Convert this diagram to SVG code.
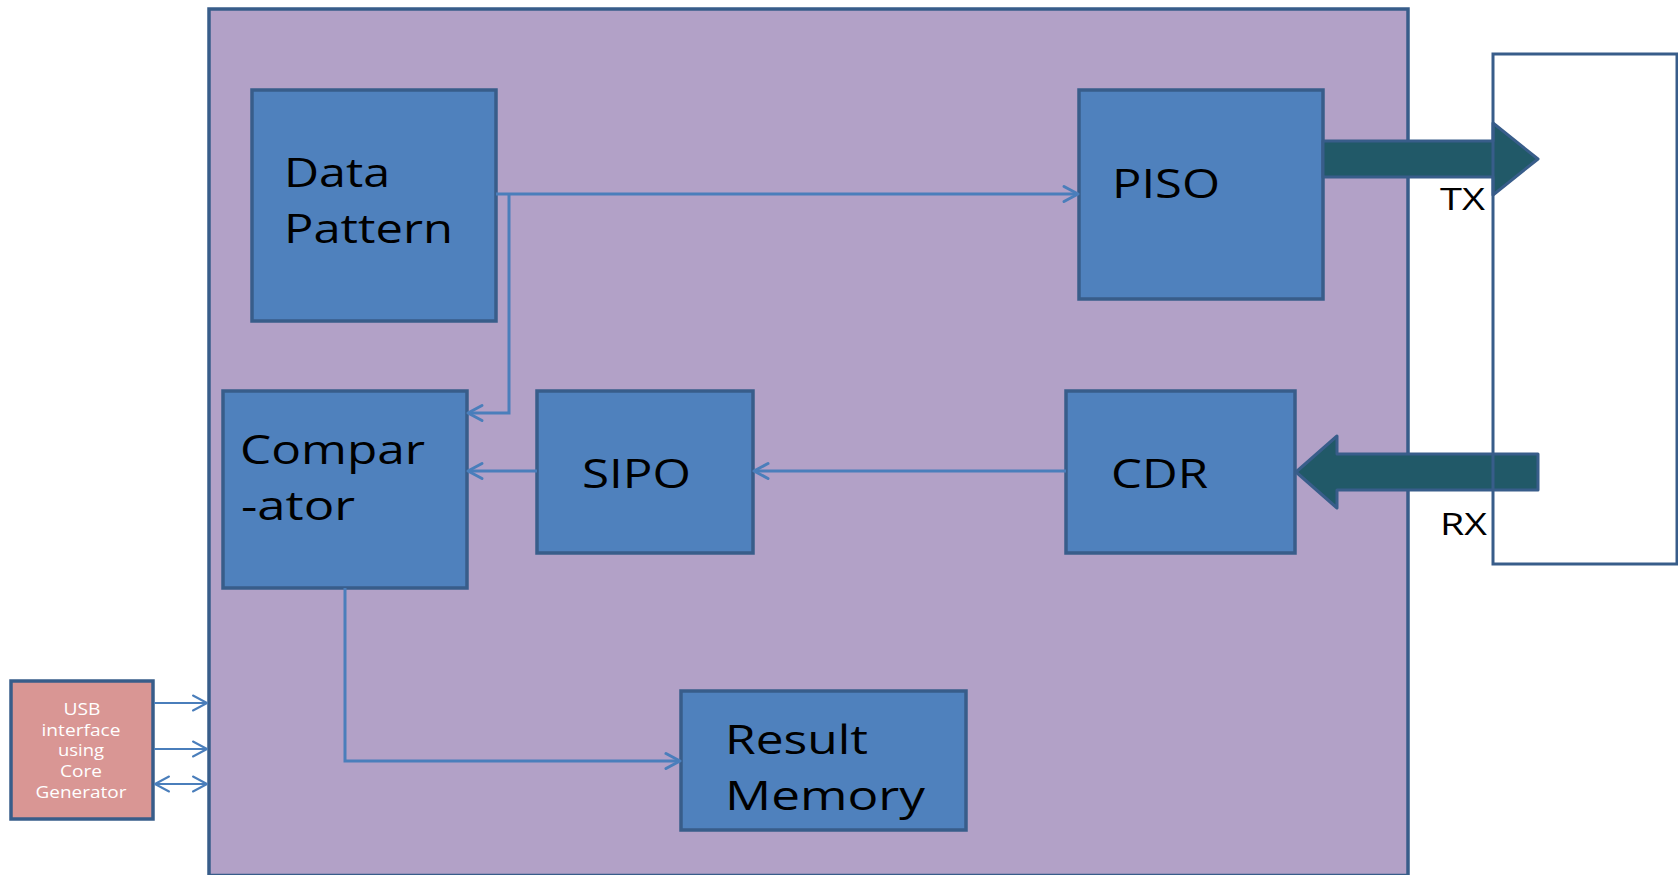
<svg xmlns="http://www.w3.org/2000/svg" width="1678" height="875" viewBox="0 0 1678 875">
<style>
.box{fill:#4F81BD;stroke:#385D8A;stroke-width:3.5}
.lbl{font-family:"Open Sans","Liberation Sans",sans-serif;font-size:41px;fill:#000}
.small{font-family:"Open Sans","Liberation Sans",sans-serif;font-size:15.5px;fill:#fff;text-anchor:middle}
.io{font-family:"Open Sans","Liberation Sans",sans-serif;font-size:31px;fill:#000}
.conn{fill:none;stroke:#4A7EBB;stroke-width:3}
.usb{fill:none;stroke:#4A7EBB;stroke-width:2}
.big{fill:#215968;stroke:#385D8A;stroke-width:3;stroke-linejoin:round}
</style>
<defs>
<marker id="ah" markerUnits="userSpaceOnUse" markerWidth="20" markerHeight="20" viewBox="-16 -10 18 20" refX="0" refY="0" orient="auto-start-reverse">
<path d="M-14,-7.5 L0,0 L-14,7.5" fill="none" stroke="#4A7EBB" stroke-width="3" stroke-linecap="round" stroke-linejoin="round"/>
</marker>
<marker id="ahs" markerUnits="userSpaceOnUse" markerWidth="20" markerHeight="20" viewBox="-16 -10 18 20" refX="0" refY="0" orient="auto-start-reverse">
<path d="M-14,-7.5 L0,0 L-14,7.5" fill="none" stroke="#4A7EBB" stroke-width="2" stroke-linecap="round" stroke-linejoin="round"/>
</marker>
</defs>
<rect width="1678" height="875" fill="#fff"/>
<g id="fpga">
<rect x="209" y="9" width="1199" height="866.5" fill="#B2A1C7" stroke="#385D8A" stroke-width="3.5"/>
</g>
<g id="data-pattern">
<rect class="box" x="252" y="90" width="244" height="231"/>
<text class="lbl" x="284" y="187" textLength="106" lengthAdjust="spacingAndGlyphs">Data</text>
<text class="lbl" x="284" y="243" textLength="169" lengthAdjust="spacingAndGlyphs">Pattern</text>
</g>
<g id="piso">
<rect class="box" x="1079" y="90" width="244" height="209"/>
<text class="lbl" x="1112" y="198" textLength="108" lengthAdjust="spacingAndGlyphs">PISO</text>
</g>
<g id="comparator">
<rect class="box" x="223" y="391" width="244" height="197"/>
<text class="lbl" x="240" y="464" textLength="185" lengthAdjust="spacingAndGlyphs">Compar</text>
<text class="lbl" x="241" y="520" textLength="114" lengthAdjust="spacingAndGlyphs">-ator</text>
</g>
<g id="sipo">
<rect class="box" x="537" y="391" width="216" height="162"/>
<text class="lbl" x="582" y="488" textLength="109" lengthAdjust="spacingAndGlyphs">SIPO</text>
</g>
<g id="cdr">
<rect class="box" x="1066" y="391" width="229" height="162"/>
<text class="lbl" x="1111" y="488" textLength="97" lengthAdjust="spacingAndGlyphs">CDR</text>
</g>
<g id="result-memory">
<rect class="box" x="681" y="691" width="285" height="139"/>
<text class="lbl" x="725" y="754" textLength="143" lengthAdjust="spacingAndGlyphs">Result</text>
<text class="lbl" x="725" y="810" textLength="200" lengthAdjust="spacingAndGlyphs">Memory</text>
</g>
<g id="usb">
<rect x="11" y="681" width="142" height="138" fill="#D99694" stroke="#385D8A" stroke-width="3.5"/>
<text class="small" x="82" y="715" textLength="37" lengthAdjust="spacingAndGlyphs">USB</text>
<text class="small" x="81" y="735.5" textLength="79" lengthAdjust="spacingAndGlyphs">interface</text>
<text class="small" x="81" y="756" textLength="46" lengthAdjust="spacingAndGlyphs">using</text>
<text class="small" x="81" y="777" textLength="42" lengthAdjust="spacingAndGlyphs">Core</text>
<text class="small" x="81" y="797.7" textLength="91" lengthAdjust="spacingAndGlyphs">Generator</text>
</g>
<g id="connectors">
<path class="conn" d="M496,194 L1078,194" marker-end="url(#ah)"/>
<path class="conn" d="M509,194 L509,413 L468,413" marker-end="url(#ah)"/>
<path class="conn" d="M537,471 L468,471" marker-end="url(#ah)"/>
<path class="conn" d="M1066,471 L754,471" marker-end="url(#ah)"/>
<path class="conn" d="M345,588 L345,761 L680,761" marker-end="url(#ah)"/>
<path class="usb" d="M154,703 L207,703" marker-end="url(#ahs)"/>
<path class="usb" d="M154,749 L207,749" marker-end="url(#ahs)"/>
<path class="usb" d="M155,784 L207,784" marker-start="url(#ahs)" marker-end="url(#ahs)"/>
<polygon id="tx-arrow" class="big" points="1323,141 1493,141 1493,123 1538,159 1493,195 1493,177 1323,177"/>
<polygon id="rx-arrow" class="big" points="1538,454 1337,454 1337,436 1296,472 1337,508 1337,490 1538,490"/>
</g>
<g id="serial-link">
<rect x="1493" y="54" width="184" height="510" fill="none" stroke="#385D8A" stroke-width="3"/>
<text class="io" x="1440" y="210" textLength="45" lengthAdjust="spacingAndGlyphs">TX</text>
<text class="io" x="1440" y="535" textLength="47" lengthAdjust="spacingAndGlyphs">RX</text>
</g>
</svg>
